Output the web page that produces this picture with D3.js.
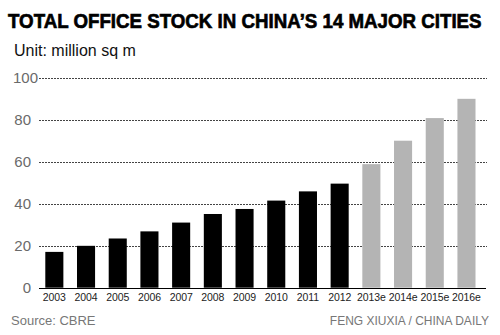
<!DOCTYPE html>
<html>
<head>
<meta charset="utf-8">
<script src="https://cdn.jsdelivr.net/npm/d3@7"></script>
<style>
  body { margin: 0; background: #fff; }
  svg { display: block; }
</style>
</head>
<body>
<div id="chart"></div>
<script>
// data
var years = ["2003", "2004", "2005", "2006", "2007", "2008", "2009", "2010", "2011", "2012", "2013e", "2014e", "2015e", "2016e"];
var stock = [17.1, 20, 23.5, 26.9, 31.1, 35.2, 37.6, 41.6, 46, 49.7, 59, 70.2, 81, 90.2];
var estimated = [false, false, false, false, false, false, false, false, false, false, true, true, true, true];
var yTicks = [0, 20, 40, 60, 80, 100];

var width = 500, height = 335;

var svg = d3.select("#chart").append("svg")
  .attr("width", width)
  .attr("height", height);

// title - squeezed horizontally to the reference width
var title = svg.append("text")
  .style("font-family", "'Liberation Sans', Arial, sans-serif")
  .style("font-weight", "bold")
  .style("font-size", "21px")
  .style("fill", "#000")
  .style("stroke", "#000")
  .style("stroke-width", 0.7)
  .text("TOTAL OFFICE STOCK IN CHINA\u2019S 14 MAJOR CITIES");
var tw = title.node().getComputedTextLength();
title.attr("transform", "translate(8,28) scale(" + (474 / tw) + ",1)");

svg.append("text")
  .attr("x", 14)
  .attr("y", 56)
  .style("font-family", "'Liberation Sans', Arial, sans-serif")
  .style("font-size", "16px")
  .style("fill", "#111")
  .text("Unit: million sq m");

// scales
var x = d3.scaleBand()
  .domain(years)
  .range([45.3, 475.5])
  .paddingInner(0.43)
  .paddingOuter(0);

var y = d3.scaleLinear()
  .domain([0, 100])
  .range([287.7, 78.3]);

// gridlines
svg.append("g")
  .selectAll("line")
  .data(yTicks.filter(function(d) { return d > 0; }))
  .enter().append("line")
  .attr("x1", 39)
  .attr("x2", 487)
  .attr("y1", function(d) { return Math.round(y(d)) + 0.5; })
  .attr("y2", function(d) { return Math.round(y(d)) + 0.5; })
  .style("stroke", "#444")
  .style("stroke-width", 1)
  .style("stroke-dasharray", "2,1");

// y tick labels
svg.append("g")
  .selectAll("text")
  .data(yTicks)
  .enter().append("text")
  .attr("x", 31)
  .attr("y", function(d) { return y(d) + 5; })
  .style("text-anchor", function(d) { return d >= 100 ? "start" : "end"; })
  .attr("dx", function(d) { return d >= 100 ? -18 : 0; })
  .style("font-family", "'Liberation Sans', Arial, sans-serif")
  .style("font-size", "15px")
  .style("fill", "#6a6a6a")
  .text(function(d) { return d; });

// bars
svg.append("g")
  .selectAll("rect")
  .data(years)
  .enter().append("rect")
  .attr("x", function(d) { return x(d); })
  .attr("width", x.bandwidth())
  .attr("y", function(d, i) { return y(stock[i]); })
  .attr("height", function(d, i) { return y(0) - y(stock[i]); })
  .style("fill", function(d, i) { return estimated[i] ? "#b4b4b4" : "#000"; });

// baseline
svg.append("line")
  .attr("x1", 39)
  .attr("x2", 486)
  .attr("y1", Math.round(y(0)) + 0.5)
  .attr("y2", Math.round(y(0)) + 0.5)
  .style("stroke", "#000")
  .style("stroke-width", 1.2);

// x labels
var xAxis = d3.axisBottom(x).tickSize(0).tickPadding(0);
var gx = svg.append("g")
  .attr("transform", "translate(0," + y(0) + ")")
  .call(xAxis);
gx.select(".domain").remove();
gx.selectAll("text")
  .attr("y", 13)
  .attr("dy", 0)
  .style("font-family", "'Liberation Sans', Arial, sans-serif")
  .style("font-size", "10.5px")
  .style("letter-spacing", "-0.1px")
  .style("fill", "#222");

// footer
svg.append("text")
  .attr("x", 11)
  .attr("y", 325)
  .style("font-family", "'Liberation Sans', Arial, sans-serif")
  .style("font-size", "13px")
  .style("fill", "#777")
  .text("Source: CBRE");

svg.append("text")
  .attr("x", 489)
  .attr("y", 325)
  .style("text-anchor", "end")
  .style("font-family", "'Liberation Sans', Arial, sans-serif")
  .style("font-size", "12px")
  .style("fill", "#777")
  .text("FENG XIUXIA / CHINA DAILY");
</script>
</body>
</html>
